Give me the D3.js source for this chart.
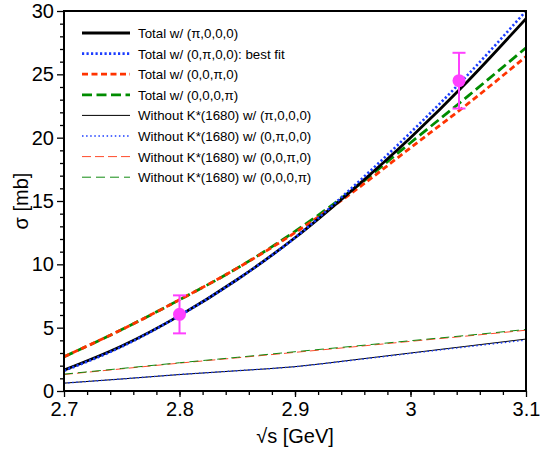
<!DOCTYPE html>
<html>
<head>
<meta charset="utf-8">
<script src="https://cdn.jsdelivr.net/npm/d3@7"></script>
<style>
  body { margin: 0; background: #fff; }
  svg { font-family: "Liberation Sans", Arial, Helvetica, sans-serif; }
</style>
</head>
<body>
<svg class="chart" width="540" height="450"></svg>
<script>
const energies = [2.7, 2.75, 2.8, 2.85, 2.9, 2.95, 3.0, 3.05, 3.1];

// total cross sections, one per phase choice
const totalPi000 = [1.65, 3.55, 5.95, 8.8, 12.1, 15.9, 20.0, 24.5, 29.4];
const total0Pi00 = [1.6, 3.5, 5.95, 8.8, 12.1, 16.1, 20.4, 25.0, 30.0];
const total00Pi0 = [2.7, 4.85, 7.2, 9.7, 12.5, 15.7, 19.2, 22.7, 26.4];
const total000Pi = [2.7, 4.85, 7.2, 9.7, 12.6, 15.9, 19.6, 23.3, 27.1];

// without the K*(1680)
const noKPi000 = [0.62, 0.95, 1.3, 1.6, 1.92, 2.45, 3.0, 3.55, 4.1];
const noK0Pi00 = [0.62, 0.95, 1.3, 1.6, 1.92, 2.43, 2.97, 3.5, 4.02];
const noK00Pi0 = [1.3, 1.75, 2.2, 2.62, 3.05, 3.48, 3.92, 4.35, 4.8];
const noK000Pi = [1.33, 1.78, 2.23, 2.66, 3.1, 3.53, 3.97, 4.4, 4.86];

// data points
const dataX = [2.8, 3.042];
const dataY = [6.05, 24.5];
const dataErr = [1.5, 2.2];

const xTicks = [2.7, 2.8, 2.9, 3.0, 3.1];
const yTicks = [0, 5, 10, 15, 20, 25, 30];

const seriesNames = [
  "Total w/ (\u03c0,0,0,0)",
  "Total w/ (0,\u03c0,0,0): best fit",
  "Total w/ (0,0,\u03c0,0)",
  "Total w/ (0,0,0,\u03c0)",
  "Without K*(1680) w/ (\u03c0,0,0,0)",
  "Without K*(1680) w/ (0,\u03c0,0,0)",
  "Without K*(1680) w/ (0,0,\u03c0,0)",
  "Without K*(1680) w/ (0,0,0,\u03c0)"
];
const seriesValues = [totalPi000, total0Pi00, total00Pi0, total000Pi,
                      noKPi000, noK0Pi00, noK00Pi0, noK000Pi];

// styles for each series
const styles = [
  { color: "#000000", width: 2.8, dash: null },
  { color: "#1a3cff", width: 2.6, dash: "2.2,2.3" },
  { color: "#ff3300", width: 2.8, dash: "6,3.5" },
  { color: "#008c00", width: 2.8, dash: "10,4.5" },
  { color: "#000000", width: 1, dash: null },
  { color: "#1a3cff", width: 1.4, dash: "1.5,2.6" },
  { color: "#ff4a2a", width: 1, dash: "9,4" },
  { color: "#118a11", width: 1, dash: "9,5" }
];

const svg = d3.select("svg.chart");
const m = { left: 64, right: 526, top: 11, bottom: 391 };

const x = d3.scaleLinear().domain([2.7, 3.1]).range([m.left, m.right]);
const y = d3.scaleLinear().domain([0, 30]).range([m.bottom, m.top]);

svg.append("clipPath").attr("id", "clip")
  .append("rect")
  .attr("x", m.left).attr("y", m.top)
  .attr("width", m.right - m.left).attr("height", m.bottom - m.top);

// axes with outward ticks
const xAxis = d3.axisBottom(x).tickValues(xTicks)
  .tickFormat(d => d3.format("")(+d.toFixed(1))).tickSize(6).tickPadding(5);
const xMinor = d3.axisBottom(x).tickValues(d3.range(2.72, 3.1, 0.02)).tickFormat("").tickSize(4);
const yAxis = d3.axisLeft(y).tickValues(yTicks).tickSize(7).tickPadding(3);
const yMinor = d3.axisLeft(y).tickValues(d3.range(1, 30, 1).filter(v => v % 5 != 0)).tickFormat("").tickSize(4);

const gx = svg.append("g").attr("transform", `translate(0,${m.bottom})`).call(xAxis);
svg.append("g").attr("transform", `translate(0,${m.bottom})`).call(xMinor);
const gy = svg.append("g").attr("transform", `translate(${m.left},0)`).call(yAxis);
svg.append("g").attr("transform", `translate(${m.left},0)`).call(yMinor);

svg.selectAll(".domain").remove();
svg.selectAll(".tick line").attr("stroke", "#000").attr("stroke-width", 1.3);
gx.selectAll("text").attr("font-size", 20).attr("fill", "#000").attr("font-family", "inherit");
gy.selectAll("text").attr("font-size", 20).attr("fill", "#000").attr("font-family", "inherit");

// curves
const line = d3.line()
  .x((d, i) => x(energies[i]))
  .y(d => y(d))
  .curve(d3.curveMonotoneX);

const curves = svg.append("g").attr("clip-path", "url(#clip)");
// thin ones first, then the thick totals
const order = [4, 5, 6, 7, 3, 2, 0, 1];
order.forEach(k => {
  curves.append("path")
    .datum(seriesValues[k])
    .attr("d", line)
    .attr("fill", "none")
    .attr("stroke", styles[k].color)
    .attr("stroke-width", styles[k].width)
    .attr("stroke-dasharray", styles[k].dash);
});

// data points with error bars
const pts = svg.append("g");
dataX.forEach((dx, i) => {
  const cx = x(dx);
  pts.append("line")
    .attr("x1", cx).attr("x2", cx)
    .attr("y1", y(dataY[i] - dataErr[i])).attr("y2", y(dataY[i] + dataErr[i]))
    .attr("stroke", "#ff40ff").attr("stroke-width", 2);
  [dataY[i] - dataErr[i], dataY[i] + dataErr[i]].forEach(v => {
    pts.append("line")
      .attr("x1", cx - 6.5).attr("x2", cx + 6.5)
      .attr("y1", y(v)).attr("y2", y(v))
      .attr("stroke", "#ff40ff").attr("stroke-width", 2);
  });
  pts.append("circle")
    .attr("cx", cx).attr("cy", y(dataY[i])).attr("r", 6.5)
    .attr("fill", "#ff40ff");
});

// frame
svg.append("rect")
  .attr("x", m.left).attr("y", m.top)
  .attr("width", m.right - m.left).attr("height", m.bottom - m.top)
  .attr("fill", "none").attr("stroke", "#000").attr("stroke-width", 2);

// legend
const leg = svg.append("g");
seriesNames.forEach((name, i) => {
  const cy = 33 + i * 20.6;
  leg.append("line")
    .attr("x1", 82).attr("x2", 130)
    .attr("y1", cy).attr("y2", cy)
    .attr("stroke", styles[i].color)
    .attr("stroke-width", styles[i].width)
    .attr("stroke-dasharray", styles[i].dash);
  leg.append("text")
    .attr("x", 138).attr("y", cy + 5)
    .attr("font-size", 13.3)
    .text(name);
});

// axis titles
svg.append("text")
  .attr("x", (m.left + m.right) / 2).attr("y", 443)
  .attr("text-anchor", "middle").attr("font-size", 20)
  .text("\u221as [GeV]");

svg.append("text")
  .attr("transform", "translate(28,201) rotate(-90)")
  .attr("text-anchor", "middle").attr("font-size", 20)
  .text("\u03c3 [mb]");
</script>
</body>
</html>
